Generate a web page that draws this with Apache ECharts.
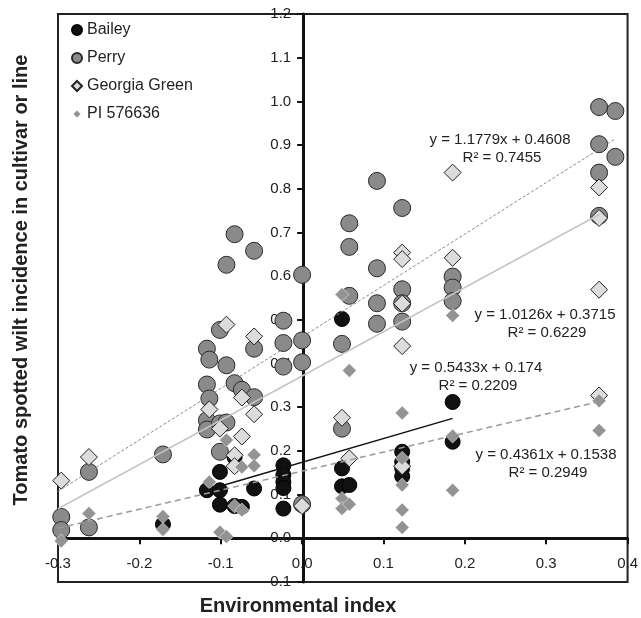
<!DOCTYPE html>
<html>
<head>
<meta charset="utf-8">
<script src="https://cdn.jsdelivr.net/npm/echarts@6/dist/echarts.min.js"></script>
<style>
  html, body { margin: 0; padding: 0; background: #fff; }
  #chart { width: 641px; height: 618px; }
</style>
</head>
<body>
<div id="chart"></div>
<script>
// environmental index vs. incidence, one array per cultivar/line
const bailey = [
  [-0.171, 0.032], [-0.117, 0.110], [-0.101, 0.152], [-0.101, 0.110], [-0.101, 0.077],
  [-0.083, 0.185], [-0.083, 0.074], [-0.074, 0.072], [-0.059, 0.114],
  [-0.023, 0.167], [-0.023, 0.145], [-0.023, 0.129], [-0.023, 0.115], [-0.023, 0.068],
  [0.049, 0.502], [0.049, 0.160], [0.049, 0.119], [0.058, 0.122],
  [0.123, 0.198], [0.123, 0.175], [0.123, 0.160], [0.123, 0.142],
  [0.185, 0.312], [0.185, 0.221]
]
const perry = [
  [-0.296, 0.049], [-0.296, 0.019], [-0.262, 0.152], [-0.262, 0.025], [-0.171, 0.192],
  [-0.117, 0.434], [-0.117, 0.352], [-0.117, 0.270], [-0.117, 0.249],
  [-0.114, 0.409], [-0.114, 0.320],
  [-0.101, 0.477], [-0.101, 0.263], [-0.101, 0.198],
  [-0.093, 0.626], [-0.093, 0.396], [-0.093, 0.265],
  [-0.083, 0.696], [-0.083, 0.355], [-0.074, 0.340],
  [-0.059, 0.658], [-0.059, 0.434], [-0.059, 0.323],
  [-0.023, 0.498], [-0.023, 0.447], [-0.023, 0.393],
  [0.0, 0.603], [0.0, 0.453], [0.0, 0.403], [0.0, 0.078],
  [0.049, 0.445], [0.049, 0.251],
  [0.058, 0.721], [0.058, 0.667], [0.058, 0.555],
  [0.092, 0.818], [0.092, 0.618], [0.092, 0.538], [0.092, 0.491],
  [0.123, 0.756], [0.123, 0.570], [0.123, 0.538], [0.123, 0.496],
  [0.185, 0.599], [0.185, 0.574], [0.185, 0.543],
  [0.365, 0.987], [0.365, 0.902], [0.365, 0.837], [0.365, 0.738],
  [0.385, 0.978], [0.385, 0.873]
]
const georgiaGreen = [
  [-0.296, 0.132], [-0.262, 0.186], [-0.114, 0.295], [-0.101, 0.251],
  [-0.093, 0.489], [-0.083, 0.190], [-0.083, 0.165], [-0.074, 0.322], [-0.074, 0.233],
  [-0.059, 0.462], [-0.059, 0.284], [0.0, 0.074],
  [0.049, 0.276], [0.058, 0.183],
  [0.123, 0.654], [0.123, 0.639], [0.123, 0.537], [0.123, 0.440], [0.123, 0.165],
  [0.185, 0.837], [0.185, 0.642],
  [0.365, 0.803], [0.365, 0.733], [0.365, 0.569], [0.365, 0.327]
]
const pi576636 = [
  [-0.296, -0.006], [-0.262, 0.057], [-0.171, 0.050], [-0.171, 0.020],
  [-0.114, 0.129], [-0.101, 0.014], [-0.093, 0.225], [-0.093, 0.004],
  [-0.083, 0.074], [-0.074, 0.163], [-0.074, 0.065],
  [-0.059, 0.191], [-0.059, 0.166],
  [0.049, 0.558], [0.049, 0.091], [0.049, 0.068], [0.058, 0.384], [0.058, 0.078],
  [0.123, 0.287], [0.123, 0.183], [0.123, 0.122], [0.123, 0.065], [0.123, 0.025],
  [0.185, 0.510], [0.185, 0.234], [0.185, 0.110],
  [0.365, 0.315], [0.365, 0.247]
]

// linear fits as printed on the chart
const fitNames = ['Bailey', 'Perry', 'Georgia Green', 'PI 576636']
const fitSlope = [0.5433, 1.0126, 1.1779, 0.4361]
const fitIntercept = [0.174, 0.3715, 0.4608, 0.1538]
const fitFrom = [-0.12, -0.3, -0.3, -0.3]
const fitTo = [0.185, 0.365, 0.385, 0.37]
const fitR2 = ['0.2209', '0.6229', '0.7455', '0.2949']

const xTicks = { min: -0.3, max: 0.4, interval: 0.1 }
const yTicks = { min: -0.1, max: 1.2, interval: 0.1 }

const font = '"Liberation Sans", Arial, sans-serif'
const W = 641, H = 618
const grid = { left: 58, right: 11, top: 14, bottom: 36 }

// axes cross at zero: shift them in from the grid edges
const plotW = W - grid.left - grid.right
const plotH = H - grid.top - grid.bottom
const yAxisShift = -plotW * (0 - xTicks.min) / (xTicks.max - xTicks.min)
const xAxisShift = -plotH * (0 - yTicks.min) / (yTicks.max - yTicks.min)

const chart = echarts.init(document.getElementById('chart'), null, { renderer: 'canvas' })

const fitStyles = [
  { color: '#111', width: 1.5, type: 'solid' },
  { color: '#c4c4c4', width: 1.5, type: 'solid' },
  { color: '#8a8a8a', width: 1, type: [3, 2] },
  { color: '#999', width: 1.5, type: [6, 4] },
]
// where each equation sits (pixel centre of first line)
const eqPos = [[476, 368], [545, 315], [500, 140], [546, 455]]

const fitSeries = fitNames.map((n, i) => ({
  name: n + ' fit',
  type: 'line',
  silent: true,
  symbol: 'none',
  data: [
    [fitFrom[i], fitSlope[i] * fitFrom[i] + fitIntercept[i]],
    [fitTo[i], fitSlope[i] * fitTo[i] + fitIntercept[i]],
  ],
  lineStyle: fitStyles[i],
  z: 3,
}))

const eqGraphics = []
fitNames.forEach((n, i) => {
  eqGraphics.push({
    type: 'text', x: eqPos[i][0], y: eqPos[i][1], z: 100,
    style: { text: `y = ${fitSlope[i]}x + ${fitIntercept[i]}`, font: `15px ${font}`, fill: '#222', textAlign: 'center', textVerticalAlign: 'middle' },
  })
  eqGraphics.push({
    type: 'text', x: eqPos[i][0] + 2, y: eqPos[i][1] + 18, z: 100,
    style: { text: `R² = ${fitR2[i]}`, font: `15px ${font}`, fill: '#222', textAlign: 'center', textVerticalAlign: 'middle' },
  })
})

const option = {
  animation: false,
  backgroundColor: '#fff',
  grid: {
    ...grid,
    show: true, borderColor: '#222', borderWidth: 2, backgroundColor: 'transparent',
  },
  legend: {
    orient: 'vertical',
    left: 66,
    top: 17,
    itemGap: 12,
    itemWidth: 10,
    itemHeight: 10,
    textStyle: { fontFamily: font, fontSize: 16, color: '#222' },
    data: [
      { name: 'Bailey', icon: 'circle' },
      { name: 'Perry', icon: 'circle' },
      { name: 'Georgia Green', icon: 'diamond' },
      { name: 'PI 576636', icon: 'diamond' },
    ],
  },
  xAxis: {
    type: 'value',
    position: 'bottom',
    offset: xAxisShift,
    min: xTicks.min, max: xTicks.max, interval: xTicks.interval,
    axisLine: { onZero: false, lineStyle: { color: '#111', width: 3 } },
    axisTick: { show: true, length: 6, inside: false, lineStyle: { color: '#111', width: 2 } },
    axisLabel: {
      margin: 18, fontFamily: font, fontSize: 15, color: '#222',
      showMinLabel: true, showMaxLabel: true,
      formatter: (v) => v.toFixed(1),
    },
    splitLine: { show: false },
  },
  yAxis: {
    type: 'value',
    position: 'left',
    offset: yAxisShift,
    min: yTicks.min, max: yTicks.max, interval: yTicks.interval,
    axisLine: { onZero: false, lineStyle: { color: '#111', width: 3 } },
    axisTick: { show: true, length: 6, lineStyle: { color: '#111', width: 2 } },
    axisLabel: {
      margin: 12, fontFamily: font, fontSize: 15, color: '#222',
      showMinLabel: true, showMaxLabel: true,
      formatter: (v) => v.toFixed(1),
    },
    splitLine: { show: false },
  },
  graphic: [
    {
      type: 'text', x: 21, y: 280, rotation: Math.PI / 2, z: 100,
      style: {
        text: 'Tomato spotted wilt incidence in cultivar or line',
        font: `bold 20px ${font}`, fill: '#222', textAlign: 'center', textVerticalAlign: 'middle',
      },
    },
    {
      type: 'text', x: 298, y: 606, z: 100,
      style: {
        text: 'Environmental index',
        font: `bold 20px ${font}`, fill: '#222', textAlign: 'center', textVerticalAlign: 'middle',
      },
    },
    ...eqGraphics,
  ],
  series: [
    {
      name: 'Bailey', type: 'scatter', symbol: 'circle', symbolSize: 15, data: bailey,
      itemStyle: { color: '#111', borderColor: '#000', borderWidth: 1, opacity: 1 },
    },
    {
      name: 'Perry', type: 'scatter', symbol: 'circle', symbolSize: 17, data: perry,
      itemStyle: { color: '#8a8a8a', borderColor: '#2a2a2a', borderWidth: 1, opacity: 1 },
    },
    {
      name: 'Georgia Green', type: 'scatter', symbol: 'diamond', symbolSize: 17, data: georgiaGreen,
      itemStyle: { color: '#dcdcdc', borderColor: '#222', borderWidth: 1, opacity: 1 },
    },
    {
      name: 'PI 576636', type: 'scatter', symbol: 'diamond', symbolSize: 14, data: pi576636,
      itemStyle: { color: '#939393', borderColor: '#fff', borderWidth: 0.5, opacity: 1 },
    },
    ...fitSeries,
  ],
}

chart.setOption(option)
</script>
</body>
</html>
